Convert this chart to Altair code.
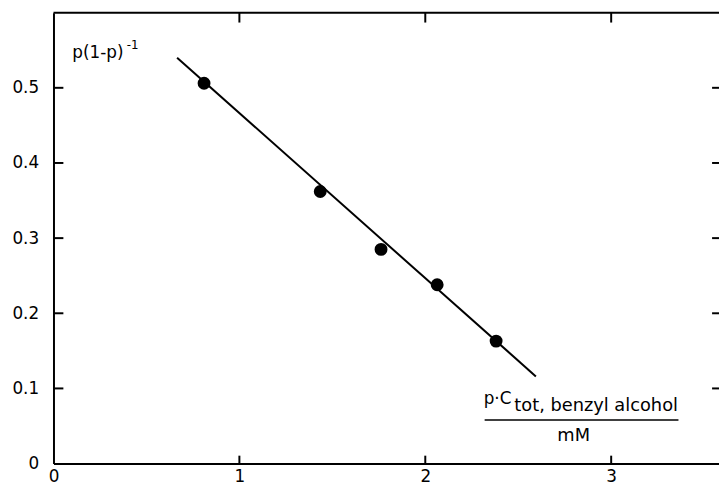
import altair as alt
import pandas as pd

# data
pts_x = [0.81, 1.435, 1.762, 2.064, 2.381]
pts_y = [0.506, 0.362, 0.285, 0.238, 0.163]
fit_x = [0.665, 2.595]
fit_y = [0.540, 0.116]
xtick_vals = [1, 2, 3]
ytick_vals = [0.1, 0.2, 0.3, 0.4, 0.5]
xlabel_vals = [0, 1, 2, 3]
ylabel_vals = [0, 0.1, 0.2, 0.3, 0.4, 0.5]

W, H = 673, 456
FONT = "DejaVu Sans"

xs = alt.Scale(domain=[0, 3.58], nice=False, zero=False)
ys = alt.Scale(domain=[0, 0.6], nice=False, zero=False)
xa = alt.Axis(
    values=xlabel_vals, ticks=False, title=None, grid=False,
    domainColor="black", domainWidth=2, labelFont=FONT, labelFontSize=17,
    labelColor="black", labelPadding=5, labelFlush=False, format="d")
ya = alt.Axis(
    values=ylabel_vals, ticks=False, title=None, grid=False,
    domainColor="black", domainWidth=2, labelFont=FONT, labelFontSize=17,
    labelColor="black", labelPadding=15, labelFlush=False,
    labelExpr="datum.value == 0 ? '0' : format(datum.value, '.1f')")

pts = pd.DataFrame({"x": pts_x, "y": pts_y})
fit = pd.DataFrame({"x": fit_x, "y": fit_y})
xt = pd.DataFrame({"x": xtick_vals})
yt = pd.DataFrame({"y": ytick_vals})
one = pd.DataFrame({"a": [0]})

X = alt.X("x:Q", scale=xs, axis=xa)
Y = alt.Y("y:Q", scale=ys, axis=ya)

points = alt.Chart(pts).mark_circle(size=170, color="black", opacity=1).encode(x=X, y=Y)
line = alt.Chart(fit).mark_line(color="black", strokeWidth=2).encode(x=X, y=Y)

left_ticks = alt.Chart(yt).mark_rule(color="black", strokeWidth=2).encode(
    y=Y, x=alt.value(0), x2=alt.value(10))
right_ticks = alt.Chart(yt).mark_rule(color="black", strokeWidth=2).encode(
    y=Y, x=alt.value(W - 7), x2=alt.value(W))
bottom_ticks = alt.Chart(xt).mark_rule(color="black", strokeWidth=2).encode(
    x=X, y=alt.value(H), y2=alt.value(H - 8))
top_ticks = alt.Chart(xt).mark_rule(color="black", strokeWidth=2).encode(
    x=X, y=alt.value(0), y2=alt.value(10))
top_border = alt.Chart(one).mark_rule(color="black", strokeWidth=2).encode(
    x=alt.value(0), x2=alt.value(W), y=alt.value(0))


def txt(s, x, y, size, align="left"):
    return alt.Chart(one).mark_text(
        text=s, font=FONT, fontSize=size, color="black", align=align, baseline="alphabetic"
    ).encode(x=alt.value(x), y=alt.value(y))


ylab1 = txt("p(1-p)", 19, 46, 17)
ylab2 = txt("-1", 74, 37, 12)
xlab1 = txt("p·C", 435, 396, 17)
xlab2 = txt("tot, benzyl alcohol", 466, 403, 18)
frac = alt.Chart(one).mark_rule(color="black", strokeWidth=1.5).encode(
    x=alt.value(436), x2=alt.value(632), y=alt.value(412))
xlab3 = txt("mM", 526, 433, 18, align="center")

chart = alt.layer(
    points, line, left_ticks, right_ticks, bottom_ticks, top_ticks, top_border,
    ylab1, ylab2, xlab1, xlab2, frac, xlab3
).properties(
    width=W, height=H,
    autosize=alt.AutoSizeParams(type="none"),
    padding={"left": 46, "top": 2, "right": 0, "bottom": 24},
).configure_view(stroke=None)

chart.save("out.html", embed_options={"renderer": "svg", "actions": False})
